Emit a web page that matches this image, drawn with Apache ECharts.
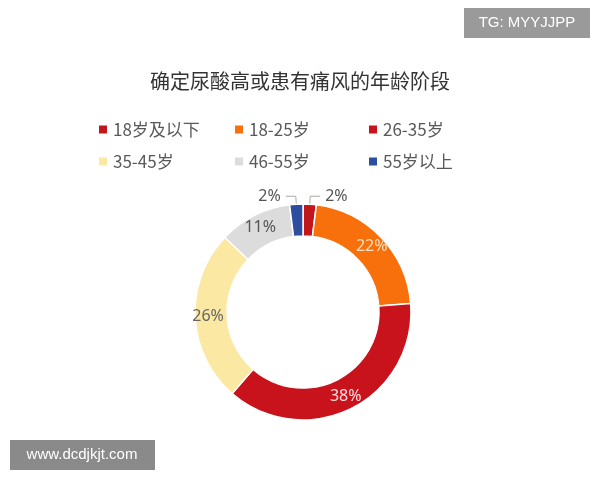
<!DOCTYPE html>
<html><head><meta charset="utf-8">
<script src="https://cdn.jsdelivr.net/npm/echarts@6/dist/echarts.min.js"></script>
<style>html,body{margin:0;background:#fff}#c{width:600px;height:480px}</style>
</head><body><div id="c"></div>
<script>
const categories = ['18岁及以下','18-25岁','26-35岁','35-45岁','46-55岁','55岁以上'];
const values = [2,22,38,26,11,2];
const colors = ['#c0161c','#f7700c','#c8121c','#fbe8a2','#dcdcdc','#2d4d9e'];
const labelColors = ['#555','#fde0c0','#fbe0e0','#666','#555','#555'];
const legendPos = [[92,116],[228,116],[362,116],[92,148],[228,148],[362,148]];
const chart = echarts.init(document.getElementById('c'));
chart.setOption({
  animation:false,
  title:{text:'确定尿酸高或患有痛风的年龄阶段',left:'center',top:66,textStyle:{fontSize:20,fontWeight:'normal',color:'#333',fontFamily:'Noto Sans CJK SC'}},
  legend: categories.map((c,i)=>({data:[c],left:legendPos[i][0],top:legendPos[i][1],itemWidth:10,itemHeight:10,icon:'rect',textStyle:{fontSize:17,color:'#595959',fontFamily:'Noto Sans CJK SC'}})),
  graphic:[
    {type:'rect',shape:{x:464,y:8,width:126,height:30},style:{fill:'#9a9a9a'}},
    {type:'text',style:{x:527,y:23,text:'TG: MYYJJPP',fill:'#fff',font:'15px Liberation Sans',align:'center',verticalAlign:'middle'}},
    {type:'rect',shape:{x:10,y:440,width:145,height:30},style:{fill:'#8a8a8a'}},
    {type:'text',z:10,style:{x:82,y:455,text:'www.dcdjkjt.com',fill:'#fff',font:'15px Liberation Sans',align:'center',verticalAlign:'middle'}}
  ],
  series:[{
    type:'pie',center:[303,312],radius:[76,108],startAngle:90,clockwise:true,
    itemStyle:{borderColor:'#fff',borderWidth:1.5},
    labelLine:{lineStyle:{color:'#aaa'},length:8,length2:10},
    data: categories.map((c,i)=>{
      const small = values[i] <= 2;
      return {name:c,value:values[i],itemStyle:{color:colors[i]},
        label:{show:true,position:small?'outside':'inside',formatter:'{c}%',fontSize:16,color:small?'#555':labelColors[i],fontFamily:'Noto Sans'},
        labelLine:{show:small}};
    })
  }]
});
</script></body></html>
